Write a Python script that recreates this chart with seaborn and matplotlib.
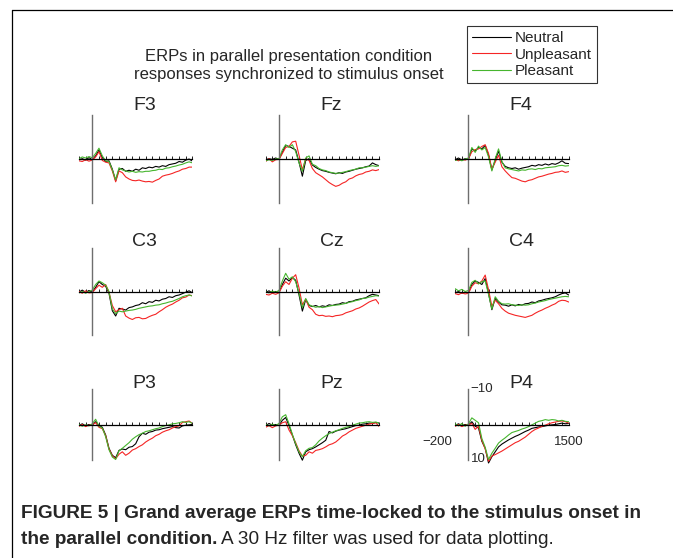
import matplotlib
matplotlib.use("Agg")
import matplotlib.pyplot as plt
import seaborn as sns
import pandas as pd
from matplotlib.lines import Line2D

# ---------------- data (µV, negative plotted upward) ----------------
times = list(range(-200, 1501, 50))
conditions = ["Neutral", "Unpleasant", "Pleasant"]
electrodes = ["F3", "Fz", "F4", "C3", "Cz", "C4", "P3", "Pz", "P4"]

f3_neutral = [0.3, 0.0, 0.4, -0.3, 0.3, -0.8, -2.5, -0.3, 0.8, 0.6, 3.0, 6.3, 3.0, 2.8, 3.6, 3.3, 3.6, 3.0, 3.3, 2.6, 2.8, 2.4, 2.6, 2.2, 2.4, 2.0, 2.2, 1.7, 1.5, 1.3, 0.8, 1.0, 0.4, 0.1, 0.7]
f3_pleasant = [0.0, -0.5, -0.2, -0.6, -0.3, -1.5, -3.0, -0.8, 0.6, 0.8, 3.2, 6.0, 2.6, 3.2, 3.5, 3.8, 3.6, 3.9, 3.7, 3.8, 3.6, 3.6, 3.4, 3.3, 3.0, 3.1, 2.7, 2.6, 2.3, 2.1, 1.8, 1.6, 1.2, 0.9, 1.2]
f3_unpleasant = [0.6, 0.8, 0.3, 0.7, 0.4, -0.5, -2.0, 0.5, 1.0, 1.2, 3.5, 6.6, 3.5, 4.0, 5.2, 5.8, 6.2, 6.3, 6.1, 6.4, 6.6, 6.5, 6.7, 6.2, 5.8, 5.0, 4.7, 4.5, 4.2, 3.8, 3.5, 3.0, 2.8, 2.4, 2.4]

fz_neutral = [0.3, 0.0, 0.2, -0.2, 0.2, -1.8, -3.8, -3.5, -3.0, -2.5, 1.0, 5.0, 0.5, 0.0, 1.8, 2.5, 3.0, 3.4, 3.6, 3.9, 4.1, 4.3, 4.0, 4.2, 3.8, 3.6, 3.3, 3.0, 2.8, 2.6, 2.3, 2.1, 1.2, 1.7, 2.0]
fz_pleasant = [0.6, 0.3, 0.5, 0.1, 0.0, -2.5, -4.0, -3.2, -4.0, -2.0, 1.2, 3.6, -0.2, -0.8, 1.6, 2.0, 2.8, 3.2, 3.4, 3.8, 4.0, 4.2, 4.1, 3.9, 3.7, 3.4, 3.2, 3.0, 2.6, 2.6, 2.4, 2.2, 2.0, 2.2, 2.0]
fz_unpleasant = [0.8, 0.0, 0.9, 0.3, 0.2, -1.5, -3.2, -3.5, -4.8, -5.0, -1.0, 3.2, 0.0, 0.5, 2.8, 4.0, 4.6, 5.2, 6.0, 6.8, 7.4, 7.9, 7.6, 7.0, 6.6, 5.8, 5.5, 4.9, 4.5, 4.3, 3.8, 3.6, 3.2, 3.4, 3.1]

f4_neutral = [0.3, -0.2, 0.4, 0.0, 0.2, -2.8, -2.2, -3.2, -2.8, -3.8, -1.0, 3.2, 0.5, -2.2, 1.0, 2.2, 2.6, 2.8, 2.6, 3.0, 2.7, 2.5, 2.3, 1.9, 2.1, 1.7, 1.9, 1.5, 1.8, 1.4, 1.6, 1.2, 0.6, 1.3, 1.4]
f4_pleasant = [0.5, 0.2, 0.6, 0.1, -0.2, -3.2, -1.8, -3.6, -2.5, -3.2, -0.5, 3.5, 0.0, -2.8, 0.8, 2.6, 2.9, 3.1, 3.3, 3.5, 3.2, 3.3, 3.0, 2.9, 3.1, 2.8, 2.9, 2.6, 2.5, 2.4, 2.3, 2.0, 1.9, 2.1, 2.0]
f4_unpleasant = [0.2, 0.6, 0.2, 0.4, 0.0, -2.0, -2.6, -2.8, -3.5, -4.0, -1.5, 3.0, 1.0, -1.0, 2.3, 3.5, 4.5, 5.4, 5.6, 6.0, 6.4, 6.6, 6.2, 6.0, 5.6, 5.2, 5.0, 4.7, 4.4, 4.2, 3.9, 3.8, 3.5, 3.9, 3.7]

c3_neutral = [0.2, -0.4, 0.3, -0.3, 0.2, -1.2, -2.8, -2.0, -1.5, 0.5, 5.5, 7.0, 4.8, 5.0, 5.3, 4.6, 4.4, 4.0, 3.8, 3.2, 3.5, 2.9, 3.1, 2.5, 2.7, 2.2, 2.0, 1.5, 1.7, 1.2, 1.0, 0.6, 0.2, -0.2, 0.4]
c3_pleasant = [0.4, 0.0, 0.5, 0.0, -0.4, -2.0, -3.0, -2.5, -1.8, 0.0, 5.0, 6.3, 5.6, 5.8, 5.6, 5.4, 5.3, 5.1, 4.8, 4.6, 4.4, 4.2, 4.1, 3.9, 3.8, 3.5, 3.3, 3.0, 2.8, 2.4, 2.0, 1.5, 1.2, 1.0, 1.3]
c3_unpleasant = [0.0, 0.5, -0.2, 0.4, 0.3, -0.8, -1.8, -1.2, -2.0, 0.2, 4.0, 5.8, 5.2, 4.8, 7.0, 7.6, 8.0, 7.5, 7.4, 7.8, 7.7, 7.2, 6.8, 6.5, 5.8, 5.2, 4.5, 4.0, 3.6, 3.0, 2.5, 1.8, 1.6, 1.0, 1.2]

cz_neutral = [0.3, -0.2, 0.4, 0.0, 0.3, -2.0, -3.8, -3.0, -4.0, -3.2, 1.0, 5.6, 2.3, 4.0, 4.3, 4.0, 4.4, 4.1, 4.3, 3.8, 4.0, 3.7, 3.6, 3.2, 3.4, 2.9, 2.8, 2.4, 2.2, 2.0, 1.8, 1.2, 0.8, 1.0, 1.2]
cz_pleasant = [0.1, 0.4, -0.1, 0.2, -0.3, -3.0, -5.2, -3.5, -4.2, -2.8, 0.5, 4.6, 2.0, 3.8, 4.2, 4.5, 4.3, 4.6, 4.4, 4.2, 4.0, 3.9, 3.8, 3.6, 3.4, 3.1, 2.9, 2.6, 2.4, 2.0, 1.9, 1.6, 1.4, 1.2, 1.3]
cz_unpleasant = [0.8, 1.0, 0.5, 0.8, 0.4, -1.5, -2.8, -2.0, -3.8, -4.8, -1.0, 3.8, 2.2, 4.5, 5.2, 6.5, 6.9, 6.8, 7.1, 7.0, 7.2, 6.9, 6.8, 6.6, 6.1, 5.8, 5.5, 5.0, 4.7, 4.2, 3.6, 3.0, 2.6, 2.3, 3.6]

c4_neutral = [0.4, 0.0, 0.5, 0.2, 0.4, -2.0, -3.0, -2.6, -2.0, -3.7, 0.5, 5.2, 2.0, 3.0, 3.8, 3.9, 4.2, 3.8, 4.1, 3.7, 3.9, 3.5, 3.4, 3.0, 3.2, 2.7, 2.5, 2.2, 2.0, 1.8, 1.5, 1.0, 0.6, 0.4, 1.0]
c4_pleasant = [-0.8, -0.2, -0.6, 0.0, -0.3, -2.6, -3.2, -2.2, -2.8, -3.0, 0.8, 5.0, 1.5, 2.8, 3.5, 3.6, 3.5, 3.8, 3.9, 4.0, 3.8, 3.9, 3.8, 3.5, 3.3, 3.0, 2.8, 2.6, 2.3, 2.1, 1.9, 1.7, 1.5, 1.4, 1.5]
c4_unpleasant = [0.6, 0.9, 0.4, 0.7, 0.5, -1.5, -2.5, -2.2, -3.0, -4.7, -0.5, 4.2, 2.5, 3.5, 4.8, 5.6, 6.2, 6.5, 6.8, 7.0, 7.2, 7.4, 7.1, 6.8, 6.2, 5.7, 5.3, 4.8, 4.4, 3.9, 3.5, 2.8, 2.5, 2.6, 3.0]

p3_neutral = [0.3, -0.2, 0.4, 0.0, 0.2, -0.8, 0.3, 0.8, 3.0, 6.8, 8.8, 9.5, 7.4, 7.0, 7.2, 6.5, 6.3, 5.5, 3.5, 2.5, 2.8, 2.2, 2.0, 1.6, 1.5, 1.2, 1.0, 0.8, 0.6, 0.9, 1.0, 0.4, 0.2, 0.1, 0.0]
p3_pleasant = [0.0, 0.5, 0.1, 0.4, -0.2, -1.5, 0.5, 1.0, 3.5, 7.2, 9.3, 10.0, 7.5, 6.8, 6.0, 5.2, 4.2, 3.5, 2.9, 2.5, 2.0, 1.8, 1.5, 1.2, 1.0, 0.6, 0.3, 0.1, -0.2, -0.3, -0.5, -0.8, -0.6, -0.8, -0.3]
p3_unpleasant = [0.5, 0.0, 0.6, 0.2, 0.0, -0.5, 0.8, 1.2, 3.2, 7.0, 9.0, 9.8, 8.5, 7.8, 8.8, 8.2, 7.3, 6.9, 6.3, 5.8, 5.0, 4.4, 3.9, 3.2, 2.8, 2.2, 1.8, 1.5, 1.0, 0.6, 0.4, -0.6, -0.8, -1.0, -0.3]

pz_neutral = [0.4, -0.3, 0.2, 0.0, 0.3, -1.2, -2.0, 0.3, 3.0, 5.8, 8.2, 10.2, 7.8, 7.2, 6.9, 6.4, 5.8, 5.2, 4.5, 2.0, 2.4, 1.9, 1.6, 1.4, 1.2, 0.9, 0.6, 0.3, 0.2, -0.1, -0.2, -0.4, -0.3, -0.6, -0.4]
pz_pleasant = [0.0, 0.4, -0.1, 0.3, -0.3, -2.2, -2.8, -0.2, 2.8, 5.5, 7.8, 9.2, 7.5, 6.8, 6.6, 5.8, 4.7, 3.9, 3.2, 2.6, 2.2, 1.8, 1.5, 1.1, 0.8, 0.6, 0.2, -0.1, -0.4, -0.5, -0.7, -0.8, -0.6, -0.7, -0.4]
pz_unpleasant = [0.8, 0.3, 0.9, 0.4, 0.2, -0.5, -0.8, 1.6, 3.2, 5.2, 7.5, 9.0, 8.8, 7.8, 8.2, 7.4, 7.2, 6.9, 6.4, 5.8, 5.5, 5.0, 4.2, 3.3, 2.8, 2.1, 1.6, 1.1, 0.8, 0.5, 0.2, -0.1, -0.3, -0.5, 0.6]

p4_neutral = [0.3, -0.2, 0.3, 0.0, 0.2, -0.8, 0.5, 1.0, 4.8, 6.8, 11.0, 9.2, 7.8, 6.4, 5.6, 5.0, 4.4, 3.9, 3.4, 3.0, 2.5, 2.0, 1.6, 1.1, 0.9, 0.7, 0.6, 0.4, 0.2, 0.1, 0.0, -0.2, -0.4, -0.2, -0.3]
p4_pleasant = [-0.2, 0.4, -0.3, 0.5, -0.2, -1.9, -1.2, -0.5, 4.0, 6.5, 10.0, 8.2, 6.8, 5.3, 4.5, 3.8, 3.0, 2.3, 2.0, 1.7, 1.3, 1.0, 0.6, 0.1, -0.4, -0.9, -1.1, -1.4, -1.2, -1.4, -1.3, -1.0, -1.2, -0.9, -0.8]
p4_unpleasant = [0.5, 0.0, 0.6, 0.2, 0.1, -0.3, 1.4, 0.5, 4.5, 7.0, 10.5, 9.0, 8.6, 8.1, 7.6, 7.0, 6.4, 5.8, 5.2, 4.8, 4.2, 3.6, 2.8, 2.0, 1.4, 1.0, 0.5, 0.2, -0.2, -0.5, -0.7, -0.9, -1.0, -0.8, -0.4]

series = {
    "F3": (f3_neutral, f3_unpleasant, f3_pleasant),
    "Fz": (fz_neutral, fz_unpleasant, fz_pleasant),
    "F4": (f4_neutral, f4_unpleasant, f4_pleasant),
    "C3": (c3_neutral, c3_unpleasant, c3_pleasant),
    "Cz": (cz_neutral, cz_unpleasant, cz_pleasant),
    "C4": (c4_neutral, c4_unpleasant, c4_pleasant),
    "P3": (p3_neutral, p3_unpleasant, p3_pleasant),
    "Pz": (pz_neutral, pz_unpleasant, pz_pleasant),
    "P4": (p4_neutral, p4_unpleasant, p4_pleasant),
}

rows = []
for el in electrodes:
    for cond, vals in zip(conditions, series[el]):
        assert len(vals) == len(times), (el, cond, len(vals))
        for t, v in zip(times, vals):
            rows.append({"electrode": el, "condition": cond, "time": t, "amp": v})
df = pd.DataFrame(rows)

# ---------------- style ----------------
sns.set_theme(style="white")
plt.rcParams["font.family"] = ["Liberation Sans", "DejaVu Sans"]
palette = {"Neutral": "#000000", "Unpleasant": "#f52525", "Pleasant": "#46b52e"}

W, H = 673, 558
fig = plt.figure(figsize=(W / 100, H / 100), dpi=100)
fig.patch.set_facecolor("white")

col_zero_x = [92.3, 279.0, 468.5]
row_zero_y = [158.7, 291.5, 424.5]
title_y = [105, 241, 383]
px_per_ms = 113.5 / 1700
px_per_uv = 3.5
ylim = 14
axis_half = [12.57, 12.57, 10.14]

for i, el in enumerate(electrodes):
    r, c = divmod(i, 3)
    left_px = col_zero_x[c] - 200 * px_per_ms
    top_px = row_zero_y[r] - ylim * px_per_uv
    h_px = 2 * ylim * px_per_uv
    ax = fig.add_axes([left_px / W, 1 - (top_px + h_px) / H, 1700 * px_per_ms / W, h_px / H])
    sub = df[df["electrode"] == el]
    sns.lineplot(data=sub, x="time", y="amp", hue="condition", hue_order=conditions,
                 palette=palette, linewidth=0.8, legend=False, ax=ax, estimator=None)
    ax.set_xlim(-200, 1500)
    ax.set_ylim(ylim, -ylim)
    ax.patch.set_visible(False)
    for s in ("top", "right"):
        ax.spines[s].set_visible(False)
    ax.spines["bottom"].set_position(("data", 0))
    ax.spines["bottom"].set_color("black")
    ax.spines["bottom"].set_linewidth(0.9)
    ax.spines["left"].set_position(("data", 0))
    ax.spines["left"].set_bounds(-axis_half[r], axis_half[r])
    ax.spines["left"].set_color("#6e6e6e")
    ax.spines["left"].set_linewidth(1.0)
    ax.set_xticks(list(range(-200, 1501, 100)))
    ax.tick_params(axis="x", direction="in", length=2, width=0.6, color="black",
                   labelbottom=False, bottom=True)
    ax.set_yticks([])
    ax.set_xlabel("")
    ax.set_ylabel("")
    fig.text((col_zero_x[c] + 52.5) / W, 1 - title_y[r] / H, el, ha="center", va="center",
             fontsize=14)
    if el == "P4":
        for v, lab in zip([-10, 10], ["\u221210", "10"]):
            ax.annotate(lab, xy=(0, v), xytext=(1.5, 0), textcoords="offset points",
                        ha="left", va="center", fontsize=9.5)
        ax.annotate("\u2212200", xy=(-200, 0), xytext=(-2, -12.6), textcoords="offset points",
                    ha="right", va="center", fontsize=9.5)
        ax.annotate("1500", xy=(1500, 0), xytext=(0, -12.6), textcoords="offset points",
                    ha="center", va="center", fontsize=9.5)

# header title
fig.text(289 / W, 1 - 57 / H, "ERPs in parallel presentation condition", ha="center",
         va="center", fontsize=12)
fig.text(289 / W, 1 - 75 / H, "responses synchronized to stimulus onset", ha="center",
         va="center", fontsize=12)

# legend
handles = [Line2D([], [], color=palette[cnd], lw=0.8) for cnd in conditions]
leg = fig.legend(handles, conditions, loc="upper left", bbox_to_anchor=(467 / W, 1 - 26 / H),
                 frameon=True, fancybox=False, edgecolor="black", fontsize=11,
                 handlelength=2.5, handletextpad=0.3, labelspacing=0.15, borderpad=0.35,
                 borderaxespad=0)
leg.get_frame().set_linewidth(0.8)

# frame lines
fig.add_artist(Line2D([12 / W, 1], [1 - 10 / H, 1 - 10 / H], transform=fig.transFigure,
                      color="black", lw=0.9))
fig.add_artist(Line2D([12 / W, 12 / W], [0, 1 - 10 / H], transform=fig.transFigure,
                      color="black", lw=0.9))

# caption
cap_font = ["Liberation Sans", "DejaVu Sans"]
fig.text(21 / W, 1 - 514 / H,
         "FIGURE 5 | Grand average ERPs time-locked to the stimulus onset in",
         ha="left", va="center", fontsize=13.7, weight="bold", family=cap_font)
t1 = fig.text(21 / W, 1 - 539 / H, "the parallel condition.", ha="left", va="center",
              fontsize=13.7, weight="bold", family=cap_font)
fig.canvas.draw()
bb = t1.get_window_extent()
fig.text((bb.x1 + 4) / W, 1 - 539 / H, "A 30 Hz filter was used for data plotting.",
         ha="left", va="center", fontsize=13.7, family=cap_font, color="#222222")

fig.savefig("out.png", dpi=100, facecolor="white")
